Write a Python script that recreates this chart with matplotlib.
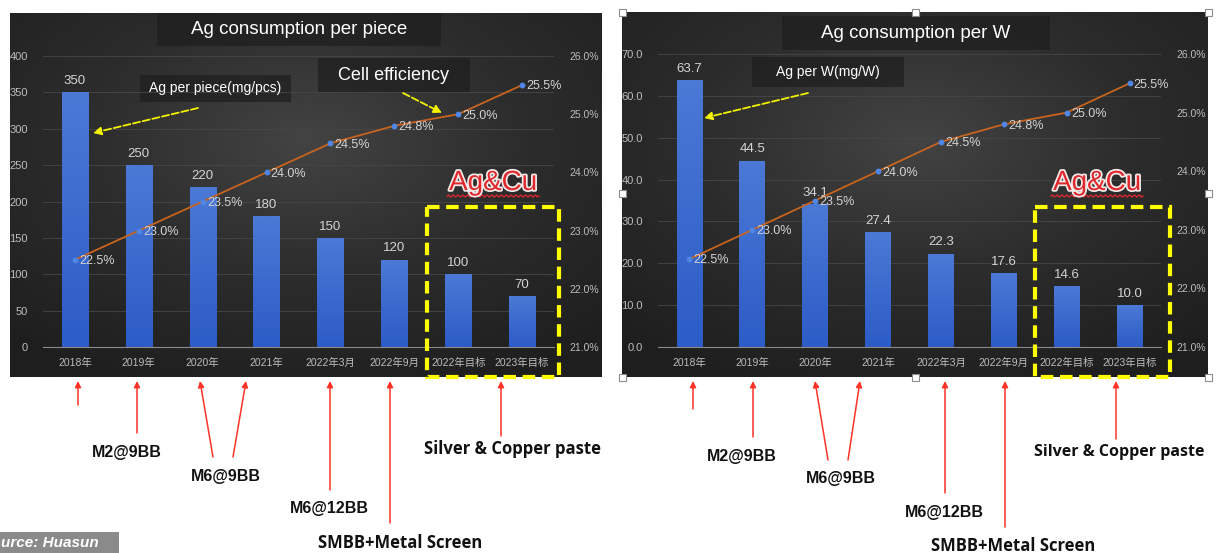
import numpy as np
import matplotlib
matplotlib.use('Agg')
import matplotlib.pyplot as plt
from matplotlib.patches import Rectangle
from matplotlib.colors import LinearSegmentedColormap
import matplotlib.patheffects as pe

plt.rcParams['font.family'] = ['Liberation Sans', 'Noto Sans CJK SC', 'DejaVu Sans']

categories = ['2018年', '2019年', '2020年', '2021年', '2022年3月', '2022年9月', '2022年目标', '2023年目标']
ag_per_piece = [350, 250, 220, 180, 150, 120, 100, 70]
ag_per_w = [63.7, 44.5, 34.1, 27.4, 22.3, 17.6, 14.6, 10.0]
cell_eff = [22.5, 23.0, 23.5, 24.0, 24.5, 24.8, 25.0, 25.5]

W, H = 1218, 553
fig = plt.figure(figsize=(W / 100, H / 100), dpi=100)
fig.patch.set_facecolor('white')


def px_axes(x0, y0, x1, y1):
    # axes placed by pixel box, y measured from the top
    return fig.add_axes([x0 / W, 1 - y1 / H, (x1 - x0) / W, (y1 - y0) / H])


# background layer with the two dark panels
bg = fig.add_axes([0, 0, 1, 1])
bg.set_xlim(0, W)
bg.set_ylim(H, 0)
bg.axis('off')
panel_cmap = LinearSegmentedColormap.from_list('panel', ['#1e1e1e', '#2c2c2c', '#434343'])
bar_cmap = LinearSegmentedColormap.from_list('bar', ['#2c5cc6', '#4a79d6'])


def dark_panel(x0, y0, x1, y1):
    yy, xx = np.mgrid[-1:1:200j, -1:1:300j]
    shade = 1 - np.clip(np.sqrt(xx ** 2 + (yy + 0.3) ** 2) / 1.5, 0, 1)
    bg.imshow(shade, cmap=panel_cmap, extent=(x0, x1, y1, y0), aspect='auto', zorder=1)


dark_panel(10, 13, 602, 377)
dark_panel(622, 12, 1208, 377)

# title and legend boxes
for x0, y0, x1, y1 in [(157, 13, 441, 46), (782, 16, 1050, 50),
                       (140, 75, 291, 102), (318, 58, 470, 92), (752, 57, 904, 87)]:
    bg.add_patch(Rectangle((x0, y0), x1 - x0, y1 - y0, facecolor='#1e1e1e', alpha=0.7,
                           edgecolor='none', zorder=2))


def draw_panel(box, values, ymax, step, fmt):
    ax = px_axes(*box)
    ax.patch.set_alpha(0)
    x = np.arange(len(categories))
    bars = ax.bar(x, values, width=0.41, color='#3e6dd2', zorder=2)
    # vertical shading inside each bar
    grad = np.linspace(0, 1, 100).reshape(-1, 1)
    for b in bars:
        im = ax.imshow(grad, cmap=bar_cmap, origin='lower', aspect='auto', zorder=2.1,
                       extent=(b.get_x(), b.get_x() + b.get_width(), 0, b.get_height()))
        im.set_clip_path(b)
    ax.set_xlim(-0.5, len(categories) - 0.5)
    ax.set_ylim(0, ymax)
    ticks = np.arange(0, ymax + step / 2, step)
    ax.set_yticks(ticks)
    ax.set_yticklabels([fmt.format(v) for v in ticks])
    ax.set_xticks(x)
    ax.set_xticklabels(categories)
    ax.grid(axis='y', color='#474747', lw=0.6, zorder=0)
    ax.set_axisbelow(True)
    for s in ['top', 'left', 'right']:
        ax.spines[s].set_visible(False)
    ax.spines['bottom'].set_color('#8a8a8a')
    ax.tick_params(axis='y', length=0, colors='#bcbcbc', labelsize=8, pad=11)
    ax.tick_params(axis='x', length=0, colors='#bcbcbc', labelsize=7.5, pad=8)
    for i, v in enumerate(values):
        ax.text(i, v + ymax * 0.018, fmt.format(v), ha='center', va='bottom',
                color='#d4d4d4', fontsize=9.5, zorder=4)

    ax2 = ax.twinx()
    ax2.set_ylim(21, 26)
    eff_ticks = np.arange(21, 26.5, 1)
    ax2.set_yticks(eff_ticks)
    ax2.set_yticklabels([f'{v:.1f}%' for v in eff_ticks])
    ax2.tick_params(axis='y', length=0, colors='#bcbcbc', labelsize=7.5, pad=11)
    for s in ax2.spines.values():
        s.set_visible(False)
    ax2.plot(x, cell_eff, color='#c8641e', lw=1.3, marker='o', ms=3.2,
             mfc='#4f86e6', mec='#4f86e6', zorder=3)
    for i, v in enumerate(cell_eff):
        ax2.annotate(f'{v:.1f}%', (i, v), xytext=(3, -1), textcoords='offset points',
                     ha='left', va='center', color='#d4d4d4', fontsize=9)
    return ax


draw_panel((43, 56, 554, 347), ag_per_piece, 400, 50, '{:.0f}')
draw_panel((658, 54, 1161, 347), ag_per_w, 70, 10, '{:.1f}')

# overlay layer for callouts and annotations
top = fig.add_axes([0, 0, 1, 1])
top.set_xlim(0, W)
top.set_ylim(H, 0)
top.axis('off')
top.patch.set_alpha(0)

top.text(299, 30, 'Ag consumption per piece', ha='center', va='center', color='white', fontsize=13.5)
top.text(916, 33, 'Ag consumption per W', ha='center', va='center', color='white', fontsize=13.5)
top.text(215, 88, 'Ag per piece(mg/pcs)', ha='center', va='center', color='white', fontsize=10)
top.text(394, 75, 'Cell efficiency', ha='center', va='center', color='white', fontsize=13)
top.text(828, 72, 'Ag per W(mg/W)', ha='center', va='center', color='white', fontsize=10)

yellow = '#f2f200'
for (xt, yt), (xh, yh) in [((198, 108), (93, 133)), ((403, 93), (442, 113)), ((808, 93), (704, 118))]:
    top.annotate('', xy=(xh, yh), xytext=(xt, yt),
                 arrowprops=dict(arrowstyle='-|>', color=yellow, lw=1.3, ls=(0, (4, 1.5)),
                                 mutation_scale=12, shrinkA=0, shrinkB=0))

for x0, x1 in [(427, 559), (1035, 1170)]:
    top.add_patch(Rectangle((x0, 207), x1 - x0, 170, facecolor='none', edgecolor='#ffff00',
                            lw=3, ls=(0, (3, 1.6))))

for cx in [493, 1097]:
    top.text(cx, 183, 'Ag&Cu', ha='center', va='center', color='#e0282c', fontsize=20,
             path_effects=[pe.withStroke(linewidth=2.5, foreground='#f4eaea')])
    wx = np.linspace(cx - 46, cx + 46, 60)
    top.plot(wx, 196 + 1.2 * np.sin((wx - cx) * 1.3), color='#e8262b', lw=0.9)

# selection handles round the right chart
for hx in [622, 915, 1208]:
    for hy in [12, 193, 377]:
        if hx == 915 and hy == 193:
            continue
        top.add_patch(Rectangle((hx - 3.5, hy - 3.5), 7, 7, facecolor='white',
                                edgecolor='#8c8c8c', lw=0.8, zorder=5))

# process notes under each chart
red = '#ff3326'
arrows = [
    ((78, 405), (78, 381)), ((137, 433), (137, 381)),
    ((213, 457), (200, 381)), ((233, 457), (246, 381)),
    ((330, 490), (330, 381)), ((390, 523), (390, 381)), ((501, 436), (501, 381)),
    ((693, 409), (693, 381)), ((753, 437), (753, 381)),
    ((828, 460), (815, 381)), ((848, 460), (860, 381)),
    ((945, 493), (945, 381)), ((1005, 527), (1005, 381)), ((1116, 439), (1116, 381)),
]
for tail, head in arrows:
    top.annotate('', xy=head, xytext=tail,
                 arrowprops=dict(arrowstyle='-|>', color=red, lw=1.1, mutation_scale=9,
                                 shrinkA=0, shrinkB=0))

notes_arial = [('M2@9BB', 127, 453), ('M6@9BB', 226, 476), ('M6@12BB', 329, 509),
               ('M2@9BB', 742, 457), ('M6@9BB', 841, 479), ('M6@12BB', 944, 513)]
for txt, x, y in notes_arial:
    top.text(x, y, txt, ha='center', va='center', fontsize=11.5, fontweight='bold', color='#111111')

notes_wide = [('Silver & Copper paste', 512, 449, 'center'), ('SMBB+Metal Screen', 400, 543, 'center'),
              ('Silver & Copper paste', 1034, 452, 'left'), ('SMBB+Metal Screen', 1013, 546, 'center')]
for txt, x, y, ha in notes_wide:
    fs = 11.5 if x > 1000 and ha == 'left' else 12
    top.text(x, y, txt, ha=ha, va='center', fontsize=fs, fontweight='bold', color='#111111',
             family='Open Sans')

top.add_patch(Rectangle((0, 532), 119, 21, facecolor='#8a8a8a', edgecolor='none'))
top.text(1, 543, 'urce: Huasun', ha='left', va='center', color='white', fontsize=11,
         fontweight='bold', style='italic')

fig.savefig('out.png', dpi=100, facecolor='white')
